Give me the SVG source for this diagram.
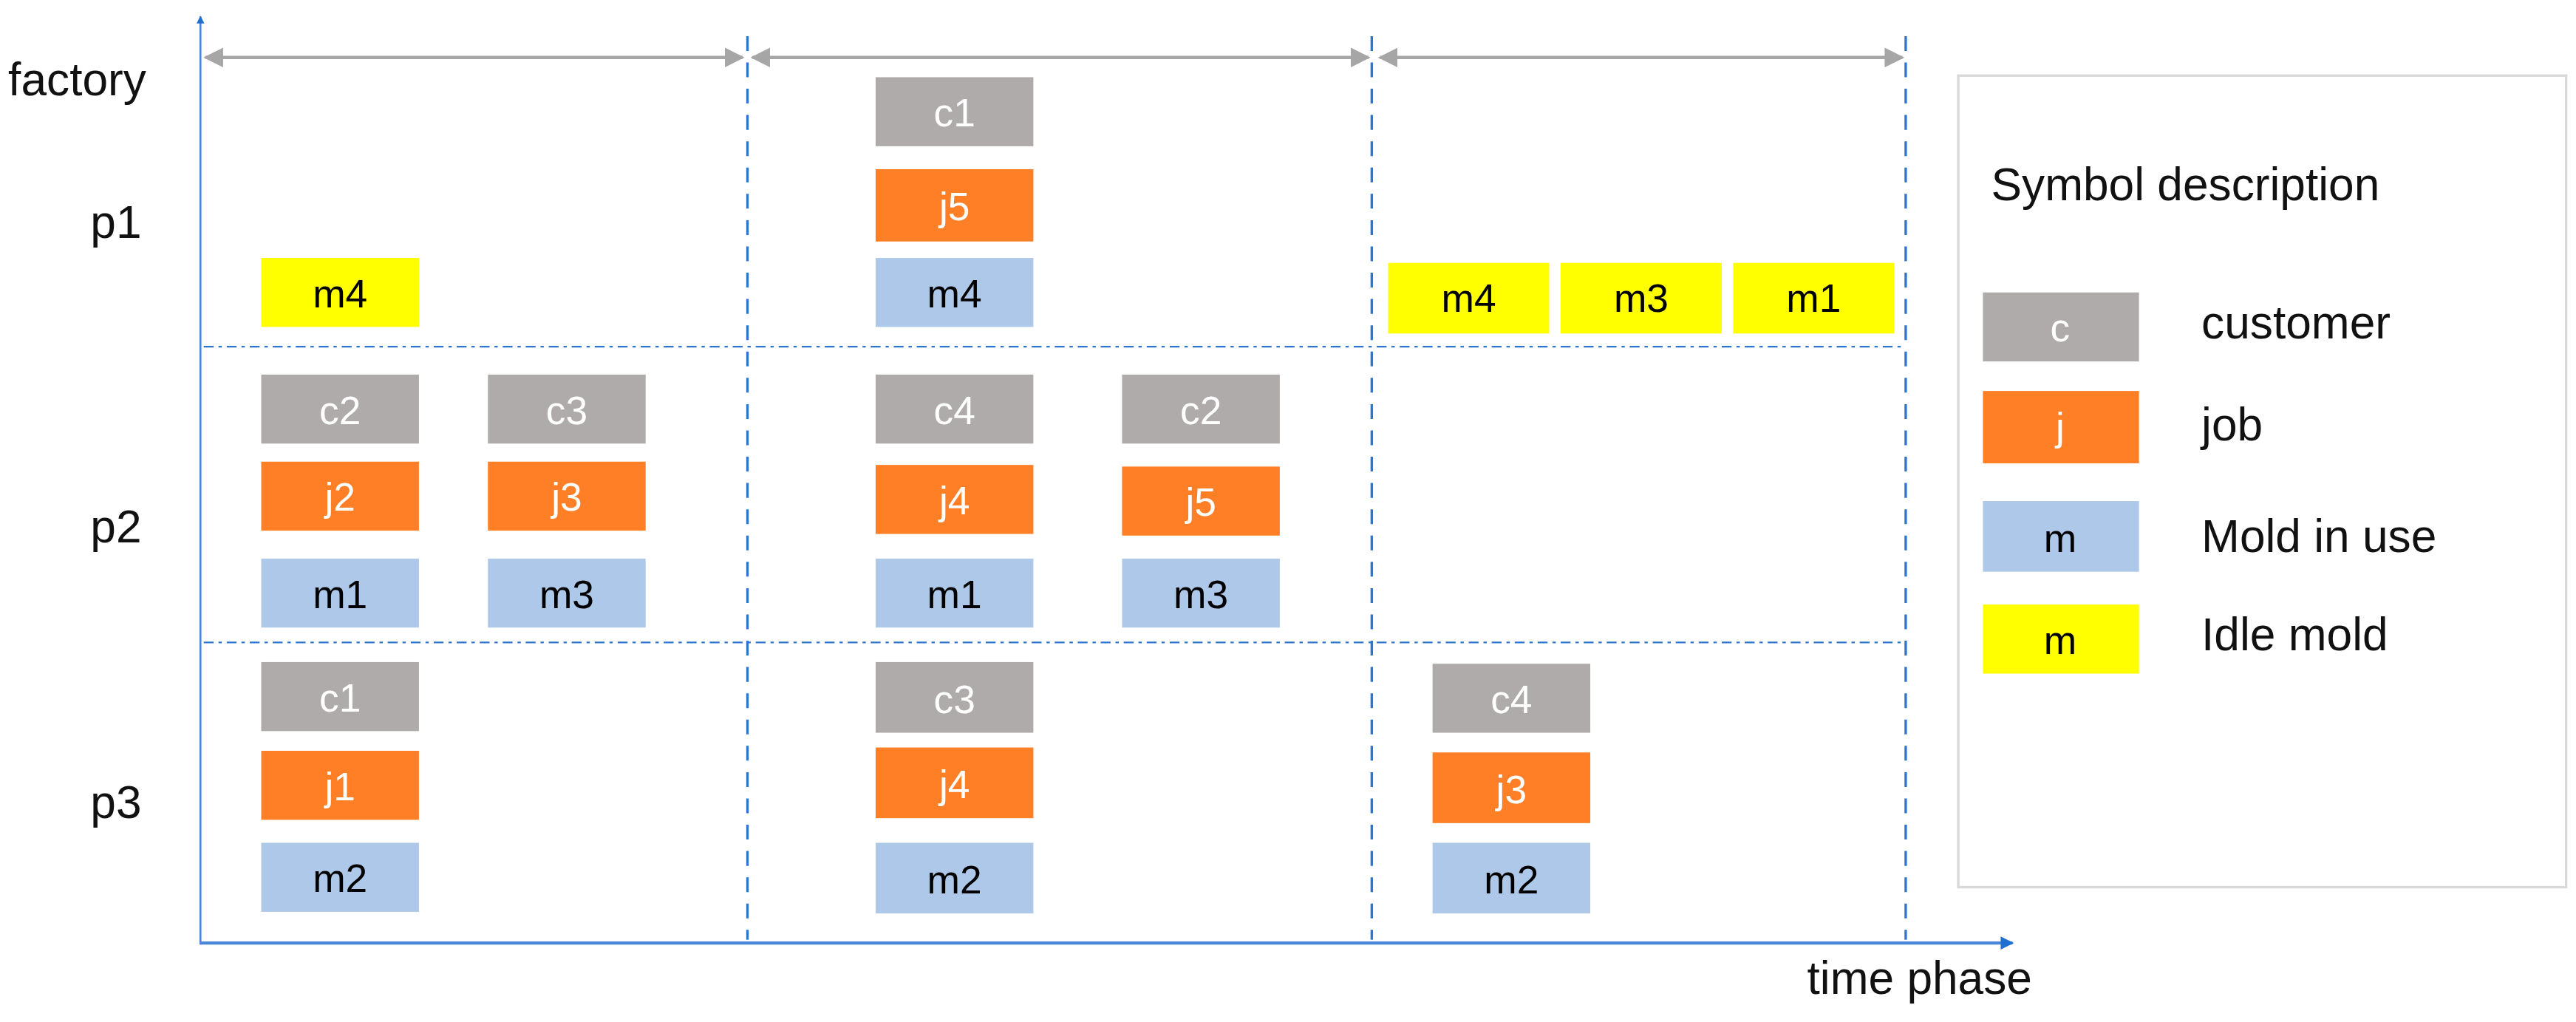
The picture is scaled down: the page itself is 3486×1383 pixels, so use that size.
<svg xmlns="http://www.w3.org/2000/svg" width="3486" height="1383" viewBox="0 0 3486 1383">
<defs>
<marker id="ab" viewBox="0 0 10 10" refX="9" refY="5" markerWidth="4" markerHeight="4" orient="auto"><path d="M0,0L10,5L0,10z" fill="#1F6FD0"/></marker>
<marker id="ag" viewBox="0 0 10 10" refX="9" refY="5" markerWidth="6" markerHeight="6" orient="auto-start-reverse"><path d="M0,0L10,5L0,10z" fill="#A6A6A6"/></marker>
<style>
text{font-family:"Liberation Sans","Noto Sans",sans-serif;}
.c{fill:#AFABAB}.j{fill:#FF7F27}.m{fill:#ADC8E8}.y{fill:#FFFF00}
.w{fill:#fff;font-size:24px;text-anchor:middle}.k{fill:#000;font-size:24px;text-anchor:middle}
.lab{font-size:28px;fill:#111}
.dv{stroke:#2E75D0;stroke-width:1.5;stroke-dasharray:9,7;fill:none}
.dh{stroke:#2E75D0;stroke-width:1;stroke-dasharray:6,3,2,3;fill:none}
</style>
</defs>
<rect width="3486" height="1383" fill="#fff"/>
<g transform="scale(2.2232)">
<g id="connectors">
<line x1="122" y1="575" x2="122" y2="10" stroke="#4A86D8" stroke-width="1.2" marker-end="url(#ab)"/>
<line x1="122" y1="574" x2="1225" y2="574" stroke="#4A86D8" stroke-width="2" marker-end="url(#ab)"/>
<line class="dv" x1="455" y1="22" x2="455" y2="572"/>
<line class="dv" x1="835" y1="22" x2="835" y2="572"/>
<line class="dv" x1="1160" y1="22" x2="1160" y2="572"/>
<line class="dh" x1="124" y1="211" x2="1160" y2="211"/>
<line class="dh" x1="124" y1="391" x2="1160" y2="391"/>
<line x1="125" y1="35" x2="452" y2="35" stroke="#A6A6A6" stroke-width="2" marker-start="url(#ag)" marker-end="url(#ag)"/>
<line x1="458" y1="35" x2="833" y2="35" stroke="#A6A6A6" stroke-width="2" marker-start="url(#ag)" marker-end="url(#ag)"/>
<line x1="840" y1="35" x2="1158" y2="35" stroke="#A6A6A6" stroke-width="2" marker-start="url(#ag)" marker-end="url(#ag)"/>
</g>
<g id="labels">
<text class="lab" x="5" y="58" font-size="26">factory</text>
<text class="lab" x="1100" y="605" font-size="26">time phase</text>
<text class="lab" x="55" y="145">p1</text>
<text class="lab" x="55" y="330">p2</text>
<text class="lab" x="55" y="498">p3</text>
</g>
<g id="p1-m4a"><rect class="y" x="159" y="157" width="96" height="42"/><text class="k" x="207" y="187">m4</text></g>
<g id="p1-c1"><rect class="c" x="533" y="47" width="96" height="42"/><text class="w" x="581" y="77">c1</text></g>
<g id="p1-j5"><rect class="j" x="533" y="103" width="96" height="44"/><text class="w" x="581" y="134">j5</text></g>
<g id="p1-m4b"><rect class="m" x="533" y="157" width="96" height="42"/><text class="k" x="581" y="187">m4</text></g>
<g id="p1-m4c"><rect class="y" x="845" y="160" width="98" height="43"/><text class="k" x="894" y="190">m4</text></g>
<g id="p1-m3"><rect class="y" x="950" y="160" width="98" height="43"/><text class="k" x="999" y="190">m3</text></g>
<g id="p1-m1"><rect class="y" x="1055" y="160" width="98" height="43"/><text class="k" x="1104" y="190">m1</text></g>
<g id="p2-c2a"><rect class="c" x="159" y="228" width="96" height="42"/><text class="w" x="207" y="258">c2</text></g>
<g id="p2-c3"><rect class="c" x="297" y="228" width="96" height="42"/><text class="w" x="345" y="258">c3</text></g>
<g id="p2-j2"><rect class="j" x="159" y="281" width="96" height="42"/><text class="w" x="207" y="311">j2</text></g>
<g id="p2-j3"><rect class="j" x="297" y="281" width="96" height="42"/><text class="w" x="345" y="311">j3</text></g>
<g id="p2-m1a"><rect class="m" x="159" y="340" width="96" height="42"/><text class="k" x="207" y="370">m1</text></g>
<g id="p2-m3a"><rect class="m" x="297" y="340" width="96" height="42"/><text class="k" x="345" y="370">m3</text></g>
<g id="p2-c4"><rect class="c" x="533" y="228" width="96" height="42"/><text class="w" x="581" y="258">c4</text></g>
<g id="p2-c2b"><rect class="c" x="683" y="228" width="96" height="42"/><text class="w" x="731" y="258">c2</text></g>
<g id="p2-j4"><rect class="j" x="533" y="283" width="96" height="42"/><text class="w" x="581" y="313">j4</text></g>
<g id="p2-j5"><rect class="j" x="683" y="284" width="96" height="42"/><text class="w" x="731" y="314">j5</text></g>
<g id="p2-m1b"><rect class="m" x="533" y="340" width="96" height="42"/><text class="k" x="581" y="370">m1</text></g>
<g id="p2-m3b"><rect class="m" x="683" y="340" width="96" height="42"/><text class="k" x="731" y="370">m3</text></g>
<g id="p3-c1"><rect class="c" x="159" y="403" width="96" height="42"/><text class="w" x="207" y="433">c1</text></g>
<g id="p3-j1"><rect class="j" x="159" y="457" width="96" height="42"/><text class="w" x="207" y="487">j1</text></g>
<g id="p3-m2a"><rect class="m" x="159" y="513" width="96" height="42"/><text class="k" x="207" y="543">m2</text></g>
<g id="p3-c3"><rect class="c" x="533" y="403" width="96" height="43"/><text class="w" x="581" y="434">c3</text></g>
<g id="p3-j4"><rect class="j" x="533" y="455" width="96" height="43"/><text class="w" x="581" y="486">j4</text></g>
<g id="p3-m2b"><rect class="m" x="533" y="513" width="96" height="43"/><text class="k" x="581" y="544">m2</text></g>
<g id="p3-c4"><rect class="c" x="872" y="404" width="96" height="42"/><text class="w" x="920" y="434">c4</text></g>
<g id="p3-j3"><rect class="j" x="872" y="458" width="96" height="43"/><text class="w" x="920" y="489">j3</text></g>
<g id="p3-m2c"><rect class="m" x="872" y="513" width="96" height="43"/><text class="k" x="920" y="544">m2</text></g>
<g id="legend">
<rect x="1192" y="46" width="370" height="494" fill="#fff" stroke="#D9D9D9" stroke-width="1.5"/>
<text class="lab" x="1212" y="122" font-size="25">Symbol description</text>
<rect class="c" x="1207" y="178" width="95" height="42"/><text class="w" x="1254" y="208" font-size="26">c</text>
<rect class="j" x="1207" y="238" width="95" height="44"/><text class="w" x="1254" y="268" font-size="26">j</text>
<rect class="m" x="1207" y="305" width="95" height="43"/><text class="k" x="1254" y="336" font-size="26">m</text>
<rect class="y" x="1207" y="368" width="95" height="42"/><text class="k" x="1254" y="398" font-size="26">m</text>
<text class="lab" x="1340" y="206" font-size="25">customer</text>
<text class="lab" x="1340" y="268" font-size="25">job</text>
<text class="lab" x="1340" y="336" font-size="25">Mold in use</text>
<text class="lab" x="1340" y="396" font-size="25">Idle mold</text>
</g>
</g>
</svg>
